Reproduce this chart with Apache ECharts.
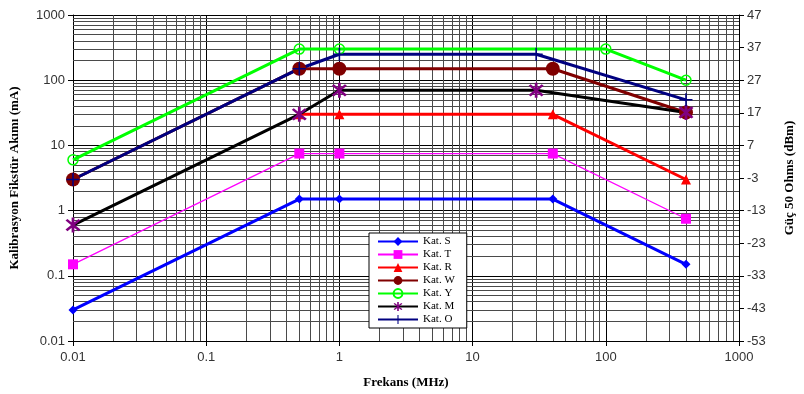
<!DOCTYPE html>
<html>
<head>
<meta charset="utf-8">
<script src="https://cdn.jsdelivr.net/npm/echarts@6/dist/echarts.min.js"></script>
<style>html,body{margin:0;padding:0;background:#fff;}#c{width:804px;height:394px;}</style>
</head>
<body>
<div id="c"></div>
<script>
// Data (frequency in MHz, current in mA)
const seriesNames = ['Kat. S', 'Kat. T', 'Kat. R', 'Kat. W', 'Kat. Y', 'Kat. M', 'Kat. O'];
const freqS = [0.01, 0.5, 1, 40, 400];
const katS  = [0.03, 1.5, 1.5, 1.5, 0.15];
const freqT = [0.01, 0.5, 1, 40, 400];
const katT  = [0.15, 7.5, 7.5, 7.5, 0.75];
const freqR = [0.5, 1, 40, 400];
const katR  = [30, 30, 30, 3];
const freqW = [0.01, 0.5, 1, 40, 400];
const katW  = [3, 150, 150, 150, 32];
const freqY = [0.01, 0.5, 1, 100, 400];
const katY  = [6, 300, 300, 300, 100];
const freqM = [0.01, 0.5, 1, 30, 400];
const katM  = [0.6, 30, 70, 70, 32];
const freqO = [0.01, 0.5, 1, 30, 400];
const katO  = [3, 150, 250, 250, 50];
const xDecades = [0.01, 0.1, 1, 10, 100];
const yDecades = [0.01, 0.1, 1, 10, 100];
const dbmOffset = -53; // right axis label = tick + offset

const pair = (f, v) => f.map((x, i) => [x, v[i]]);
const fmt = v => String(parseFloat(Number(v).toPrecision(6)));

const starPath = 'path://M-1.5 -10 L1.5 -10 L1.5 10 L-1.5 10 Z M-8.13 -6.01 L-6.01 -8.13 L8.13 6.01 L6.01 8.13 Z M-6.01 8.13 L-8.13 6.01 L6.01 -8.13 L8.13 -6.01 Z';
const plusPath = 'path://M-1.2 -10 L1.2 -10 L1.2 10 L-1.2 10 Z M-10 -1.2 L10 -1.2 L10 1.2 L-10 1.2 Z';

const minorX = [], minorY = [];
xDecades.forEach(d => { for (let k = 2; k <= 9; k++) minorX.push({ xAxis: +(d * k).toPrecision(6) }); });
yDecades.forEach(d => { for (let k = 2; k <= 9; k++) minorY.push({ yAxis: +(d * k).toPrecision(6) }); });

function mk(name, data, color, lw, symbol, size, item) {
  return {
    name, type: 'line', data, symbol, symbolSize: size,
    lineStyle: { color, width: lw },
    itemStyle: Object.assign({ color, opacity: 1 }, item || {}),
    emphasis: { disabled: true }, z: 3, animation: false
  };
}

const chart = echarts.init(document.getElementById('c'));
chart.setOption({
  animation: false,
  backgroundColor: '#fff',
  grid: { left: 70, right: 62, top: 15, bottom: 48 },
  legend: {
    data: seriesNames, z: 20,
    orient: 'vertical', left: 369, top: 233,
    backgroundColor: '#fff', borderColor: '#000', borderWidth: 1,
    padding: [3, 12, 3, 8],
    itemWidth: 40, itemHeight: 11, itemGap: 2,
    textStyle: { fontFamily: 'Liberation Serif', fontSize: 11, color: '#000' },
    selectedMode: false
  },
  xAxis: {
    type: 'log', min: 0.01, max: 1000, logBase: 10,
    name: 'Frekans (MHz)', nameLocation: 'middle', nameGap: 35,
    nameTextStyle: { fontFamily: 'Liberation Serif', fontWeight: 'bold', fontSize: 13, color: '#000' },
    axisLine: { lineStyle: { color: '#000', width: 1 } },
    axisTick: { show: true, length: 5, lineStyle: { color: '#000' } },
    axisLabel: { formatter: fmt, fontFamily: 'Liberation Sans', fontSize: 13, color: '#333', margin: 10 },
    splitLine: { show: true, lineStyle: { color: '#000', width: 1 } },
    minorTick: { show: false }
  },
  yAxis: [{
    type: 'log', min: 0.01, max: 1000, logBase: 10,
    name: 'Kalibrasyon Fikstür Akımı (mA)', nameLocation: 'middle', nameGap: 52, nameRotate: 90,
    nameTextStyle: { fontFamily: 'Liberation Serif', fontWeight: 'bold', fontSize: 13, color: '#000' },
    axisLine: { show: true, lineStyle: { color: '#000', width: 1 } },
    axisTick: { show: true, length: 5, lineStyle: { color: '#000' } },
    axisLabel: { formatter: fmt, fontFamily: 'Liberation Sans', fontSize: 13, color: '#333', margin: 8 },
    splitLine: { show: true, lineStyle: { color: '#000', width: 1 } }
  }, {
    type: 'value', min: 0, max: 100, interval: 10, position: 'right',
    name: 'Güç 50 Ohms (dBm)', nameLocation: 'middle', nameGap: 44, nameRotate: 90,
    nameTextStyle: { fontFamily: 'Liberation Serif', fontWeight: 'bold', fontSize: 13, color: '#000' },
    axisLine: { show: true, lineStyle: { color: '#000', width: 1 } },
    axisTick: { show: true, length: 5, lineStyle: { color: '#000' } },
    axisLabel: { formatter: v => String(v + dbmOffset), fontFamily: 'Liberation Sans', fontSize: 13, color: '#333', margin: 8 },
    splitLine: { show: false }
  }],
  series: [
    {
      name: 'grid', type: 'line', data: [], silent: true, z: 1,
      markLine: {
        silent: true, symbol: ['none', 'none'], label: { show: false }, animation: false, z: 1,
        lineStyle: { color: '#4a4a4a', width: 1, type: 'solid' },
        emphasis: { disabled: true },
        data: minorX.concat(minorY)
      }
    },
    mk('Kat. S', pair(freqS, katS), '#0000ff', 3, 'diamond', 9),
    mk('Kat. T', pair(freqT, katT), '#ff00ff', 1.3, 'rect', 10),
    mk('Kat. R', pair(freqR, katR), '#ff0000', 3, 'triangle', 10),
    mk('Kat. W', pair(freqW, katW), '#800000', 3, 'circle', 14),
    mk('Kat. Y', pair(freqY, katY), '#00ff00', 3, 'circle', 10, { color: 'rgba(255,255,255,0)', borderColor: '#00ff00', borderWidth: 1.5 }),
    Object.assign(mk('Kat. M', pair(freqM, katM), '#000000', 3, starPath, 15), { itemStyle: { color: '#800080' } }),
    mk('Kat. O', pair(freqO, katO), '#000080', 3, plusPath, 13)
  ]
});
</script>
</body>
</html>
